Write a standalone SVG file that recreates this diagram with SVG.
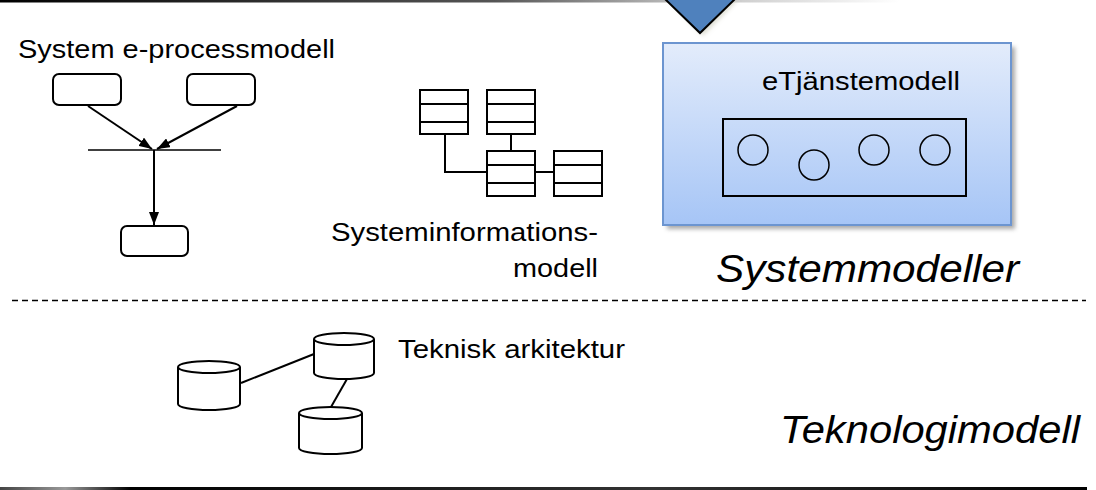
<svg xmlns="http://www.w3.org/2000/svg" width="1096" height="490" viewBox="0 0 1096 490">
<style>
  .t { font-family: "Liberation Sans", Arial, sans-serif; font-size: 26px; fill: #000; }
  .ti { font-family: "Liberation Sans", Arial, sans-serif; font-size: 39px; font-style: italic; fill: #000; }
  .s { fill: #fff; stroke: #000; stroke-width: 2; }
  .ln { fill: none; stroke: #000; stroke-width: 2; }
  .cyl { fill: #fff; stroke: #000; stroke-width: 2; }
</style>
<defs>
  <marker id="ah" viewBox="0 0 13 10" refX="13" refY="5" markerWidth="13" markerHeight="10" markerUnits="userSpaceOnUse" orient="auto">
    <path d="M0,0 L13,5 L0,10 Z" fill="#000"/>
  </marker>
  <linearGradient id="boxg" x1="0" y1="0" x2="0" y2="1">
    <stop offset="0" stop-color="#e3ecfb"/>
    <stop offset="1" stop-color="#a6c5f6"/>
  </linearGradient>
  <linearGradient id="topg" x1="0" y1="0" x2="1" y2="0">
    <stop offset="0" stop-color="#000"/>
    <stop offset="0.55" stop-color="#555"/>
    <stop offset="0.75" stop-color="#bbb"/>
    <stop offset="1" stop-color="#fff"/>
  </linearGradient>
  <linearGradient id="botg" x1="0" y1="0" x2="1" y2="0">
    <stop offset="0" stop-color="#444"/>
    <stop offset="0.06" stop-color="#999"/>
    <stop offset="0.12" stop-color="#000"/>
    <stop offset="0.6" stop-color="#333"/>
    <stop offset="1" stop-color="#000"/>
  </linearGradient>
  <filter id="sh" x="-10%" y="-10%" width="130%" height="130%">
    <feGaussianBlur stdDeviation="2"/>
  </filter>
</defs>

<!-- frame lines -->
<rect x="0" y="0" width="900" height="2.5" fill="url(#topg)"/>
<rect x="0" y="487" width="1087" height="3" fill="url(#botg)"/>
<line x1="12" y1="300.5" x2="1086" y2="300.5" stroke="#000" stroke-width="1.5" stroke-dasharray="6,4"/>

<!-- blue triangle -->
<g id="pointer">
  <path d="M668,0 L703,36 L738,0 Z" fill="#c8c8b8" opacity="0.6" filter="url(#sh)"/>
  <path d="M665,-1 L700,33 L735,-1 Z" fill="#4f81bd" stroke="#000" stroke-width="2"/>
</g>

<!-- System e-processmodell -->
<g id="processmodel">
  <text class="t" x="18" y="58" textLength="317" lengthAdjust="spacingAndGlyphs">System e-processmodell</text>
  <rect class="s" x="53" y="74" width="68" height="31" rx="6"/>
  <rect class="s" x="187" y="74" width="68" height="31" rx="6"/>
  <line x1="88" y1="150" x2="221" y2="150" stroke="#000" stroke-width="1.5"/>
  <rect class="s" x="121" y="226" width="67" height="30" rx="6"/>
</g>

<!-- Systeminformationsmodell -->
<g id="infomodel">
  <g class="s">
    <rect x="420" y="90" width="48" height="44"/>
    <rect x="487" y="90" width="48" height="44"/>
    <rect x="487" y="151" width="48" height="45"/>
    <rect x="554" y="151" width="48" height="45"/>
  </g>
  <g class="ln">
    <path d="M420,104 H468 M420,122 H468"/>
    <path d="M487,104 H535 M487,122 H535"/>
    <path d="M487,165 H535 M487,183 H535"/>
    <path d="M554,165 H602 M554,183 H602"/>
  </g>
  <text class="t" x="598" y="241" text-anchor="end" textLength="267" lengthAdjust="spacingAndGlyphs">Systeminformations-</text>
  <text class="t" x="598" y="277" text-anchor="end" textLength="85" lengthAdjust="spacingAndGlyphs">modell</text>
</g>

<!-- eTjänstemodell -->
<g id="etjanst">
  <rect x="667" y="47" width="348" height="182" fill="#555" opacity="0.5" filter="url(#sh)"/>
  <rect x="663" y="43" width="348" height="182" fill="url(#boxg)" stroke="#6c95d0" stroke-width="2"/>
  <text class="t" x="762" y="90" textLength="198" lengthAdjust="spacingAndGlyphs">eTjänstemodell</text>
  <rect x="723" y="119" width="243" height="77" fill="none" stroke="#000" stroke-width="2"/>
  <circle cx="753" cy="150" r="15" fill="none" stroke="#000" stroke-width="1.5"/>
  <circle cx="814" cy="165" r="15" fill="none" stroke="#000" stroke-width="1.5"/>
  <circle cx="874" cy="150" r="15" fill="none" stroke="#000" stroke-width="1.5"/>
  <circle cx="935" cy="150" r="15" fill="none" stroke="#000" stroke-width="1.5"/>
</g>

<g id="systemmodeller">
  <text class="ti" x="716" y="282" textLength="303" lengthAdjust="spacingAndGlyphs">Systemmodeller</text>
</g>

<!-- Teknisk arkitektur -->
<g id="teknisk">
  <text class="t" x="398" y="358" textLength="227" lengthAdjust="spacingAndGlyphs">Teknisk arkitektur</text>
  <g id="cylA">
    <path class="cyl" d="M178,367 V404 A31,6 0 0 0 240,404 V367"/>
    <ellipse class="cyl" cx="209" cy="367" rx="31" ry="6"/>
  </g>
  <g id="cylB">
    <path class="cyl" d="M314,339 V373 A30,6 0 0 0 374,373 V339"/>
    <ellipse class="cyl" cx="344" cy="339" rx="30" ry="6"/>
  </g>
  <g id="cylC">
    <path class="cyl" d="M299,413 V448 A31.5,6 0 0 0 362,448 V413"/>
    <ellipse class="cyl" cx="330.5" cy="413" rx="31.5" ry="6"/>
  </g>
</g>

<g id="teknologimodell">
  <text class="ti" x="780" y="443" textLength="300" lengthAdjust="spacingAndGlyphs">Teknologimodell</text>
</g>

<!-- connectors -->
<g id="connectors" fill="none" stroke="#000" stroke-width="2">
  <line x1="88" y1="106" x2="152" y2="149" marker-end="url(#ah)"/>
  <line x1="237" y1="106" x2="157" y2="149" marker-end="url(#ah)"/>
  <line x1="154" y1="150" x2="154" y2="225" marker-end="url(#ah)"/>
  <line x1="511" y1="134" x2="511" y2="151"/>
  <path d="M445,134 V172 H487"/>
  <line x1="535" y1="172" x2="554" y2="172"/>
  <line x1="241" y1="383" x2="314" y2="354"/>
  <line x1="347" y1="379" x2="331" y2="407"/>
</g>
</svg>
